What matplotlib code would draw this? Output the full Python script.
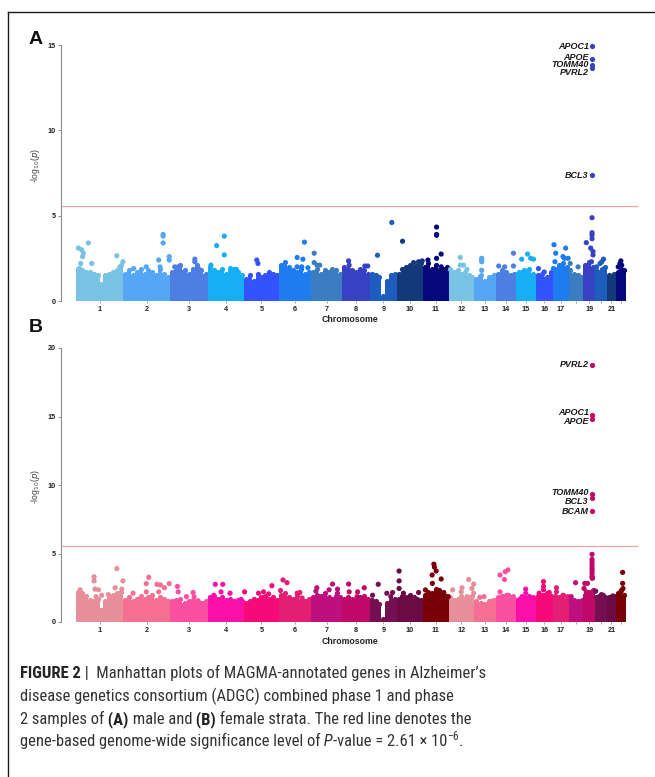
import numpy as np
import matplotlib
matplotlib.use("Agg")
import matplotlib.pyplot as plt
from matplotlib import font_manager
from matplotlib.lines import Line2D

# chromosome lengths (Mb) and x tick labels
CHROM_LEN = [249, 243, 198, 191, 181, 171, 159, 146, 141, 136, 135,
             133, 114, 107, 102, 90, 81, 78, 59, 64, 47, 51]
TICK_LABELS = ['1', '2', '3', '4', '5', '6', '7', '8', '9', '10', '11',
               '12', '13', '14', '15', '16', '17', '', '19', '', '21', '']

MALE_COLORS = ['#78c2e4', '#55a6f4', '#4d7fe2', '#16aef4', '#3452fe', '#1e7bf0',
               '#3c7cc0', '#3841c4', '#1c5dbe', '#13397a', '#05087a']
FEMALE_COLORS = ['#e68f9b', '#f46f92', '#fb4fa2', '#fa0fa8', '#f60a77', '#e21f72',
                 '#bd0f7e', '#c00868', '#741052', '#6b0a45', '#780006']

# upper edge of the dense body of genes, per chromosome (-log10 p)
MALE_BULK = [
    [1.9, 1.8, 1.7, 1.7, 1.6, 1.5, 1.0, 1.5, 1.6, 1.7, 1.8, 2.1],
    [1.6, 1.8, 1.5, 1.7, 1.9, 1.6, 1.8, 1.7, 1.5, 1.9, 1.6, 1.4],
    [1.7, 2.0, 2.1, 1.8, 1.6, 1.9, 2.1, 1.8, 1.6],
    [2.0, 1.8, 1.7, 1.9, 1.6, 1.8, 1.9, 1.7, 1.5],
    [1.3, 1.5, 1.2, 1.6, 1.4, 1.5, 1.7, 1.6, 1.5],
    [2.1, 2.3, 2.0, 1.8, 1.7, 1.9, 1.6, 1.7],
    [1.7, 1.9, 1.6, 1.8, 1.7, 1.9, 1.8, 1.6],
    [2.0, 1.9, 1.8, 1.7, 1.9, 1.8, 1.6],
    [1.6, 1.5, 1.4, 0.3, 1.2, 1.5, 1.6],
    [1.6, 1.9, 2.0, 2.1, 2.0, 2.1, 2.2],
    [2.0, 2.2, 1.9, 2.1, 1.8, 1.9, 2.0],
    [1.9, 1.7, 1.8, 1.6, 1.7, 1.5, 1.4],
    [1.3, 1.5, 1.2, 1.4, 1.5],
    [1.6, 1.8, 1.7, 1.5, 1.6],
    [1.7, 1.8, 1.9, 1.6],
    [1.5, 1.6, 1.4, 1.7],
    [1.9, 2.1, 2.2, 2.0],
    [1.8, 1.6, 1.5, 1.4],
    [2.1, 2.3, 2.0],
    [1.8, 1.7, 1.9, 2.0],
    [1.5, 1.6],
    [1.7, 1.9, 1.8],
]
FEMALE_BULK = [
    [2.2, 2.1, 1.9, 1.6, 1.5, 1.7, 0.9, 1.5, 1.8, 2.0, 2.1, 2.2],
    [1.6, 1.8, 1.5, 1.7, 1.9, 1.7, 1.8, 2.0, 1.6, 1.8, 1.7, 1.5],
    [1.5, 1.6, 1.7, 1.4, 1.5, 1.6, 1.5, 1.4, 1.5],
    [1.8, 1.9, 1.7, 1.8, 1.6, 1.7, 1.5, 1.6, 1.5],
    [1.4, 1.5, 1.7, 1.6, 1.8, 1.9, 1.7, 1.8, 1.6],
    [2.0, 2.1, 1.8, 1.7, 1.9, 1.6, 1.5, 1.7],
    [1.8, 2.0, 1.9, 2.1, 1.8, 1.7, 1.9, 1.8],
    [1.7, 1.8, 1.7, 1.6, 1.8, 1.9, 1.7],
    [1.6, 1.5, 1.3, 0.2, 1.4, 1.6, 1.7],
    [1.7, 1.9, 1.8, 2.0, 1.8, 1.7, 1.6],
    [2.0, 2.2, 2.1, 2.4, 2.3, 2.1, 1.9],
    [1.8, 1.6, 1.7, 1.9, 1.7, 1.8, 1.9],
    [1.5, 1.4, 1.3, 1.5, 1.6],
    [1.8, 1.9, 2.0, 1.8, 1.7],
    [1.7, 1.8, 1.9, 1.8],
    [1.9, 2.0, 2.1, 1.9],
    [1.9, 1.8, 2.0, 1.7],
    [1.7, 1.6, 1.5, 1.6],
    [2.0, 2.2, 2.3],
    [1.8, 1.9, 1.7, 1.8],
    [1.8, 1.9],
    [2.1, 2.3, 2.0],
]

# genes sticking out above the body: (chromosome, position Mb, -log10 p)
MALE_PEAKS = [
    (1, 14, 3.1), (1, 31, 3.0), (1, 40, 2.8), (1, 36, 2.6), (1, 66, 3.4), (1, 26, 2.2),
    (1, 84, 2.2), (1, 215, 2.65), (1, 247, 2.3), (1, 232, 2.0), (1, 20, 1.9),
    (2, 54, 1.9), (2, 120, 2.0), (2, 185, 2.4), (2, 208, 3.9), (2, 208, 3.8), (2, 208, 3.4),
    (2, 240, 2.6), (2, 240, 2.4), (2, 192, 2.0),
    (3, 131, 2.45), (3, 131, 2.3), (3, 26, 2.0), (3, 44, 2.0), (3, 150, 1.9),
    (4, 47, 3.25), (4, 87, 3.8), (4, 87, 2.7), (4, 17, 2.1), (4, 150, 1.85), (4, 120, 1.9),
    (5, 66, 2.4), (5, 72, 2.2),
    (6, 134, 3.45), (6, 96, 2.55), (6, 126, 2.45), (6, 96, 2.0), (6, 120, 2.0), (6, 152, 1.95),
    (6, 30, 2.1),
    (7, 14, 2.8), (7, 14, 2.25), (7, 29, 2.1), (7, 43, 2.1),
    (8, 35, 2.35), (8, 38, 2.1), (8, 120, 2.05), (8, 135, 2.05),
    (9, 115, 4.6), (9, 40, 2.68),
    (10, 30, 3.5), (10, 88, 2.25), (10, 114, 2.3), (10, 133, 2.35),
    (11, 72, 4.33), (11, 72, 3.9), (11, 72, 3.85), (11, 96, 2.75), (11, 72, 2.5), (11, 27, 2.4),
    (11, 96, 2.0),
    (12, 61, 2.55), (12, 61, 2.1), (12, 78, 2.1), (12, 96, 1.85),
    (13, 40, 2.5), (13, 40, 2.4), (13, 40, 2.3), (13, 40, 1.8),
    (14, 92, 2.8), (14, 15, 2.05), (14, 46, 2.0), (14, 92, 2.05),
    (15, 59, 2.75), (15, 28, 2.45), (15, 75, 2.5), (15, 90, 2.45),
    (16, 14, 1.9), (16, 44, 1.7),
    (17, 5, 3.3), (17, 14, 2.8), (17, 10, 2.3), (17, 66, 3.1), (17, 52, 2.6), (17, 60, 2.5),
    (17, 79, 2.5), (17, 2, 1.9),
    (18, 50, 2.0), (18, 9, 2.2),
    (19, 45, 4.88), (19, 45, 4.0), (19, 45, 3.87), (19, 45, 3.65), (19, 15, 3.42), (19, 38, 3.1),
    (19, 50, 2.9), (19, 50, 2.7), (19, 42, 2.3),
    (20, 46, 2.45), (20, 37, 2.3), (20, 28, 2.2), (20, 10, 2.0),
    (22, 26, 2.35), (22, 21, 2.2), (22, 12, 2.0), (22, 30, 2.1),
]
FEMALE_PEAKS = [
    (1, 215, 3.9), (1, 96, 3.3), (1, 96, 3.0), (1, 101, 2.4), (1, 119, 2.35), (1, 106, 1.85),
    (1, 247, 3.0), (1, 206, 2.5), (1, 171, 2.0), (1, 136, 1.95), (1, 241, 2.4), (1, 23, 2.35),
    (2, 133, 3.26), (2, 120, 2.8), (2, 120, 2.2), (2, 176, 2.75), (2, 194, 2.7), (2, 215, 2.5),
    (2, 240, 2.8), (2, 185, 2.2), (2, 51, 2.1), (2, 89, 1.7),
    (3, 40, 2.6), (3, 44, 2.2), (3, 87, 1.85), (3, 122, 2.15), (3, 127, 1.85), (3, 148, 1.55),
    (4, 40, 2.75), (4, 79, 2.75), (4, 70, 2.2), (4, 117, 2.1), (4, 175, 1.65), (4, 32, 1.95),
    (5, 2, 2.2), (5, 145, 2.65), (5, 101, 2.2), (5, 128, 2.05), (5, 75, 2.1),
    (6, 22, 3.07), (6, 43, 2.87), (6, 9, 2.3), (6, 96, 2.1), (6, 110, 2.15), (6, 122, 1.75),
    (7, 110, 2.77), (7, 136, 2.4), (7, 136, 2.1), (7, 28, 2.5), (7, 23, 2.25), (7, 92, 2.35),
    (8, 35, 2.77), (8, 38, 2.2), (8, 82, 2.2), (8, 117, 2.5), (8, 79, 1.85),
    (9, 44, 2.75), (9, 14, 1.95), (9, 89, 2.1), (9, 119, 2.15), (9, 110, 1.85),
    (10, 12, 3.72), (10, 12, 3.0), (10, 12, 2.45), (10, 35, 2.1), (10, 114, 2.15),
    (11, 58, 4.22), (11, 61, 4.0), (11, 70, 3.72), (11, 96, 3.14), (11, 49, 3.43), (11, 50, 2.82),
    (11, 14, 2.34), (11, 110, 2.15), (11, 133, 1.85),
    (12, 21, 2.34), (12, 70, 2.5), (12, 66, 2.2), (12, 105, 3.1), (12, 131, 2.77), (12, 122, 2.45),
    (12, 131, 2.1), (12, 96, 1.85),
    (13, 30, 1.8), (13, 52, 1.85), (13, 100, 1.55),
    (14, 22, 3.43), (14, 49, 3.67), (14, 63, 3.8), (14, 45, 3.1), (14, 22, 2.2), (14, 66, 1.95),
    (14, 92, 1.85),
    (15, 49, 2.4), (15, 49, 2.1), (15, 30, 1.85),
    (16, 40, 2.95), (16, 40, 2.6), (16, 40, 2.35), (16, 70, 2.15), (16, 17, 2.1),
    (17, 18, 2.5), (17, 18, 2.2), (17, 52, 1.95), (17, 78, 1.85),
    (18, 37, 2.87), (18, 14, 1.85),
    (19, 45, 4.94), (19, 45, 4.57), (19, 45, 4.4), (19, 45, 4.2), (19, 45, 4.0), (19, 45, 3.84),
    (19, 45, 3.67), (19, 45, 3.5), (19, 45, 3.3), (19, 46, 3.2), (19, 47, 3.2), (19, 7, 2.82),
    (19, 21, 2.82), (19, 3, 2.45), (19, 15, 2.2), (19, 58, 2.25),
    (20, 5, 2.25), (20, 35, 2.0), (20, 45, 1.95),
    (21, 30, 1.9),
    (22, 35, 3.62), (22, 35, 2.82), (22, 26, 2.2), (22, 37, 2.45),
]

# genome-wide significant genes (all on chromosome 19)
MALE_SIG_GENES = ['APOC1', 'APOE', 'TOMM40', 'PVRL2', 'BCL3']
MALE_SIG_POS = [45.4, 45.4, 45.4, 45.4, 45.3]
MALE_SIG_P = [14.94, 14.16, 13.83, 13.67, 7.38]
FEMALE_SIG_GENES = ['PVRL2', 'APOC1', 'APOE', 'TOMM40', 'BCL3', 'BCAM']
FEMALE_SIG_POS = [45.4, 45.4, 45.4, 45.4, 45.3, 45.3]
FEMALE_SIG_P = [18.76, 15.11, 14.80, 9.34, 9.03, 8.08]

THRESHOLD = -np.log10(2.61e-6)

names = {f.name for f in font_manager.fontManager.ttflist}
CAP_FONT = 'Liberation Sans'
for cand in ['Liberation Sans Narrow', 'Roboto Condensed', 'Open Sans Condensed']:
    if cand in names:
        CAP_FONT = cand
        break
PLOT_FONT = 'Liberation Sans'

W, H = 655, 777
fig = plt.figure(figsize=(W / 100, H / 100), dpi=100)


def fx(px):
    return px / W


def fy(py):
    return 1 - py / H


offsets = np.concatenate([[0], np.cumsum(CHROM_LEN)[:-1]])
centers = offsets + np.array(CHROM_LEN) / 2.0
total = float(np.sum(CHROM_LEN))
px_per_mb = 550.0 / total
xlim = (-(75.7 - 61) / px_per_mb, total + (638 - 625.7) / px_per_mb)


def manhattan(ax, bulk, peaks, genes, pos, vals, palette, ymax, nudges):
    for c, heights in enumerate(bulk):
        n = len(heights)
        w = CHROM_LEN[c] / n
        xs = offsets[c] + w * (np.arange(n) + 0.5)
        col = palette[c % len(palette)]
        ax.bar(xs, heights, width=w, color=col, linewidth=0, zorder=2)
        ax.scatter(xs, heights, s=14, color=col, linewidths=0, zorder=2, clip_on=False)
    pk = np.array(peaks, dtype=float)
    cidx = pk[:, 0].astype(int) - 1
    ax.scatter(offsets[cidx] + pk[:, 1], pk[:, 2], s=14, linewidths=0, zorder=3,
               color=[palette[i % len(palette)] for i in cidx], clip_on=False)
    sig_col = palette[18 % len(palette)]
    sx = offsets[18] + np.array(pos)
    ax.scatter(sx, vals, s=14, color=sig_col, linewidths=0, zorder=4, clip_on=False)
    for g, x, v, dy in zip(genes, sx, vals, nudges):
        ax.annotate(g, (x, v), xytext=(-2.4, dy), textcoords='offset points',
                    ha='right', va='center', fontsize=6.5, fontweight='bold',
                    fontstyle='italic', family=PLOT_FONT, color='#1a1a1a')
    ax.axhline(THRESHOLD, color='#eba3a3', lw=0.9, zorder=1)
    ax.set_xlim(*xlim)
    ax.set_ylim(0, ymax)
    for s in ['top', 'right', 'bottom']:
        ax.spines[s].set_visible(False)
    ax.spines['left'].set_color('#8c8c8c')
    ax.spines['left'].set_linewidth(0.8)
    ax.spines['left'].set_bounds(0, ymax)
    ax.set_yticks(np.arange(0, ymax + 1, 5))
    ax.set_xticks(centers)
    ax.set_xticklabels(TICK_LABELS)
    ax.tick_params(axis='y', length=2.2, width=0.7, color='#8c8c8c', pad=1.5,
                   labelsize=5.2, labelcolor='#222222')
    ax.tick_params(axis='x', length=1.6, width=0.6, color='#8c8c8c', pad=1.8,
                   labelsize=5.2, labelcolor='#222222')
    for lab in ax.get_xticklabels() + ax.get_yticklabels():
        lab.set_fontweight('bold')
        lab.set_family(PLOT_FONT)


axA = fig.add_axes([fx(61), fy(301), fx(638) - fx(61), fy(45) - fy(301)])
manhattan(axA, MALE_BULK, MALE_PEAKS, MALE_SIG_GENES, MALE_SIG_POS, MALE_SIG_P,
          MALE_COLORS, 15, [0, 1.6, 0, -3.8, 0])
axB = fig.add_axes([fx(61), fy(622), fx(638) - fx(61), fy(348) - fy(622)])
manhattan(axB, FEMALE_BULK, FEMALE_PEAKS, FEMALE_SIG_GENES, FEMALE_SIG_POS, FEMALE_SIG_P,
          FEMALE_COLORS, 20, [0, 2.0, -1.6, 1.2, -2.4, 0.0])

for letter, ylet, ychr, ymid in [('A', 39, 320, 165), ('B', 327, 641, 486)]:
    fig.text(fx(36), fy(ylet), letter, fontsize=14, fontweight='bold', family=PLOT_FONT,
             ha='center', va='center', color='#111111')
    fig.text(fx(350), fy(ychr), 'Chromosome', fontsize=6.3, fontweight='bold', family=PLOT_FONT,
             ha='center', va='center', color='#222222')
    fig.text(fx(36), fy(ymid), r'-log$_{10}$($p$)', rotation=90, fontsize=6.2, family=PLOT_FONT,
             ha='center', va='center', color='#444444', math_fontfamily='dejavusans')

# frame
fig.add_artist(Line2D([fx(8), 1], [fy(12), fy(12)], color='#1a1a1a', lw=1.0))
fig.add_artist(Line2D([fx(8), fx(8)], [0, fy(12)], color='#1a1a1a', lw=1.0))

# caption, drawn piece by piece on a shared baseline
renderer = fig.canvas.get_renderer()
CAP_SIZE = 11.9
CAP_COLOR = '#333333'
caption = [
    (678, [('FIGURE 2', 'bold'), (' |  Manhattan plots of MAGMA-annotated genes in Alzheimer\u2019s', 'normal')]),
    (701, [('disease genetics consortium (ADGC) combined phase 1 and phase', 'normal')]),
    (724, [('2 samples of', 'normal'), (' (A)', 'bold'), (' male and', 'normal'), (' (B)', 'bold'),
           (' female strata. The red line denotes the', 'normal')]),
    (746, [('gene-based genome-wide significance level of', 'normal'), (' P', 'italic'),
           ('-value = 2.61 \u00d7 10', 'normal'), ('\u22126', 'sup'), ('.', 'normal')]),
]
for base, parts in caption:
    x = fx(20)
    for s, style in parts:
        kw = dict(family=[CAP_FONT, 'DejaVu Sans'], color=CAP_COLOR, fontsize=CAP_SIZE, va='baseline')
        y = fy(base)
        if style == 'bold':
            kw['fontweight'] = 'bold'
            kw['color'] = '#222222'
        elif style == 'italic':
            kw['fontstyle'] = 'italic'
        elif style == 'sup':
            kw['fontsize'] = CAP_SIZE * 0.7
            y = fy(base - 6.5)
        t = fig.text(x, y, s, **kw)
        x += t.get_window_extent(renderer).width / W

fig.savefig('out.png', dpi=100)
